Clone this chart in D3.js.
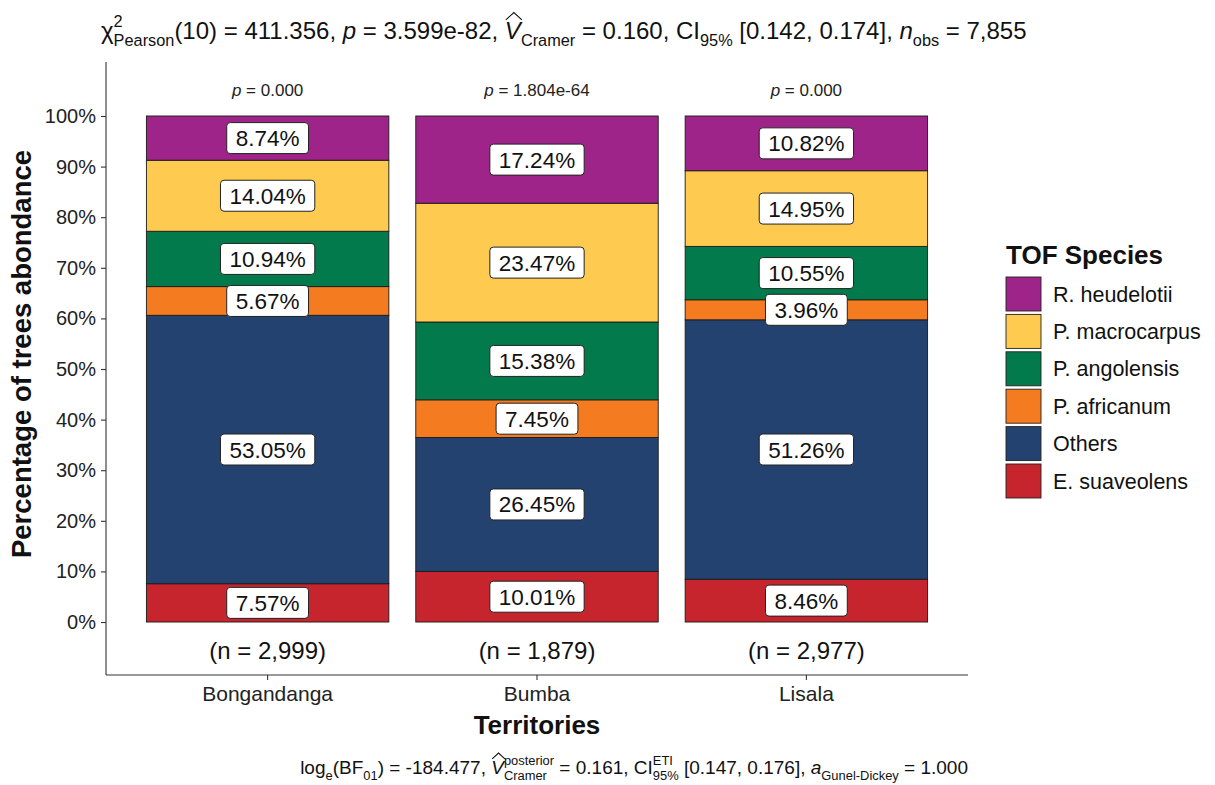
<!DOCTYPE html>
<html>
<head>
<meta charset="utf-8">
<script src="https://cdn.jsdelivr.net/npm/d3@7"></script>
<style>
  html, body { margin: 0; padding: 0; background: #fff; }
  svg { display: block; font-family: "Liberation Sans", Arial, sans-serif; }
  text { white-space: pre; }
</style>
</head>
<body>
<svg id="chart" width="1215" height="785"></svg>
<script>
// Tree abundance by territory (percent of trees per species)
const territories = ["Bongandanga", "Bumba", "Lisala"];
const species = ["E. suaveolens", "Others", "P. africanum", "P. angolensis", "P. macrocarpus", "R. heudelotii"];
const speciesColors = ["#c7252d", "#24426f", "#f47b20", "#037a4c", "#fecb50", "#9e248a"];
const bongandanga = [7.57, 53.05, 5.67, 10.94, 14.04, 8.74];
const bumba = [10.01, 26.45, 7.45, 15.38, 23.47, 17.24];
const lisala = [8.46, 51.26, 3.96, 10.55, 14.95, 10.82];
const nObs = [2999, 1879, 2977];
const pValues = ["0.000", "1.804e-64", "0.000"];
const yTicks = [0, 0.1, 0.2, 0.3, 0.4, 0.5, 0.6, 0.7, 0.8, 0.9, 1.0];

const shares = [bongandanga, bumba, lisala];
const rows = territories.map((t, i) => {
  const total = d3.sum(shares[i]);
  const r = { territory: t };
  species.forEach((s, j) => { r[s] = shares[i][j] / total; r[s + "_pct"] = shares[i][j]; });
  return r;
});

const svg = d3.select("#chart");
const FONT = '"Liberation Sans", Arial, sans-serif';
const panel = { left: 106, right: 968, top: 62, bottom: 675 };

const x = d3.scaleBand().domain(territories)
  .range([panel.left, panel.right]).paddingInner(0.1).paddingOuter(0.15);
const y = d3.scaleLinear().domain([-0.1047, 1.1067]).range([panel.bottom, panel.top]);
const color = d3.scaleOrdinal().domain(species).range(speciesColors);

const stacked = d3.stack().keys(species)(rows);

// Stacked bars
const layers = svg.append("g").selectAll("g").data(stacked).join("g")
  .attr("fill", d => color(d.key));
layers.selectAll("rect").data(d => d.map(p => ({ p, key: d.key }))).join("rect")
  .attr("x", d => x(d.p.data.territory))
  .attr("width", x.bandwidth())
  .attr("y", d => y(d.p[1]))
  .attr("height", d => y(d.p[0]) - y(d.p[1]))
  .attr("stroke", "#1a1a1a").attr("stroke-width", 0.9);

// Percentage labels in white rounded boxes
const labG = svg.append("g");
stacked.forEach(layer => {
  layer.forEach(p => {
    const cx = x(p.data.territory) + x.bandwidth() / 2;
    const cy = y((p[0] + p[1]) / 2);
    const g = labG.append("g");
    const rect = g.append("rect");
    const t = g.append("text").attr("x", cx).attr("y", cy + 8)
      .attr("text-anchor", "middle").attr("font-size", 22.5).attr("fill", "#111")
      .text(p.data[layer.key + "_pct"].toFixed(2) + "%");
    const w = t.node().getComputedTextLength();
    rect.attr("x", cx - w / 2 - 9).attr("y", cy - 15.5).attr("width", w + 18).attr("height", 31)
      .attr("rx", 3.5).attr("fill", "#fff").attr("stroke", "#222").attr("stroke-width", 1);
  });
});

// Axes
const yAxis = d3.axisLeft(y).tickValues(yTicks).tickFormat(d3.format(".0%")).tickSize(5).tickPadding(5);
const yg = svg.append("g").attr("transform", `translate(${panel.left},0)`).call(yAxis);
yg.select(".domain").attr("d", `M0,${panel.top}V${panel.bottom}`);
const xAxis = d3.axisBottom(x).tickSize(5).tickPadding(6);
const xg = svg.append("g").attr("transform", `translate(0,${panel.bottom})`).call(xAxis);
xg.select(".domain").attr("d", `M${panel.left},0H${panel.right}`);
[yg, xg].forEach(g => {
  g.select(".domain").attr("stroke", "#333").attr("stroke-width", 1.1);
  g.selectAll(".tick line").attr("stroke", "#333").attr("stroke-width", 1.1);
  g.selectAll(".tick text").attr("font-family", FONT).attr("fill", "#222");
});
yg.selectAll(".tick text").attr("font-size", 20);
xg.selectAll(".tick text").attr("font-size", 21);

// Sample sizes under bars and p-values above
territories.forEach((t, i) => {
  const cx = x(t) + x.bandwidth() / 2;
  svg.append("text").attr("x", cx).attr("y", 659).attr("text-anchor", "middle")
    .attr("font-size", 24).attr("fill", "#111").text(`(n = ${d3.format(",")(nObs[i])})`);
  const pt = svg.append("text").attr("x", cx).attr("y", 96).attr("text-anchor", "middle")
    .attr("font-size", 17).attr("fill", "#222");
  pt.append("tspan").attr("font-style", "italic").text("p");
  pt.append("tspan").text(" = " + pValues[i]);
});

// Axis titles
svg.append("text").attr("transform", "translate(31,354) rotate(-90)").attr("text-anchor", "middle")
  .attr("font-size", 27.5).attr("font-weight", "bold").attr("fill", "#111").text("Percentage of trees abondance");
svg.append("text").attr("x", (panel.left + panel.right) / 2).attr("y", 734).attr("text-anchor", "middle")
  .attr("font-size", 26).attr("font-weight", "bold").attr("fill", "#111").text("Territories");

// Legend
const leg = svg.append("g").attr("transform", "translate(1006,0)");
leg.append("text").attr("x", 0).attr("y", 264).attr("font-size", 26).attr("font-weight", "bold")
  .attr("fill", "#111").text("TOF Species");
species.slice().reverse().forEach((s, i) => {
  const top = 277 + i * 37.4;
  leg.append("rect").attr("x", 0).attr("y", top).attr("width", 35).attr("height", 34)
    .attr("fill", color(s)).attr("stroke", "#222").attr("stroke-width", 0.9);
  leg.append("text").attr("x", 47).attr("y", top + 24.5).attr("font-size", 21.5).attr("fill", "#111").text(s);
});

// Rich text with italics, sub/superscripts and hats
function rich(segs, x0, baseY, size, anchor) {
  const g = svg.append("g");
  let cx = 0;
  function put(s, xPos) {
    const fs = s.v ? size * 0.68 : size;
    const dy = s.v === "sup" ? -size * 0.5 : s.v === "sub" ? size * 0.3 : 0;
    const t = g.append("text").attr("x", xPos).attr("y", baseY + dy).attr("font-size", fs)
      .attr("fill", "#111").attr("font-style", s.i ? "italic" : "normal").text(s.t);
    const w = t.node().getComputedTextLength();
    if (s.hat) {
      const top = baseY - size * 0.8;
      g.append("path").attr("d", `M${xPos + 1},${top} L${xPos + w / 2 + 1},${top - size * 0.3} L${xPos + w + 1},${top}`)
        .attr("fill", "none").attr("stroke", "#111").attr("stroke-width", 1.1);
    }
    return w;
  }
  segs.forEach(s => {
    if (s.stack) {
      const ws = s.stack.map(p => put(p, cx));
      cx += d3.max(ws);
    } else {
      cx += put(s, cx);
    }
  });
  const shift = anchor === "end" ? x0 - cx : anchor === "middle" ? x0 - cx / 2 : x0;
  g.attr("transform", `translate(${shift},0)`);
  return g;
}

rich([
  { t: "χ" },
  { stack: [{ t: "2", v: "sup" }, { t: "Pearson", v: "sub" }] },
  { t: "(10) = 411.356, " }, { t: "p", i: true }, { t: " = 3.599e-82, " },
  { t: "V", i: true, hat: true }, { t: "Cramer", v: "sub" },
  { t: " = 0.160, CI" }, { t: "95%", v: "sub" }, { t: " [0.142, 0.174], " },
  { t: "n", i: true }, { t: "obs", v: "sub" }, { t: " = 7,855" }
], 101, 39, 24, "start");

rich([
  { t: "log" }, { t: "e", v: "sub" }, { t: "(BF" }, { t: "01", v: "sub" }, { t: ") = -184.477, " },
  { t: "V", i: true, hat: true },
  { stack: [{ t: "posterior", v: "sup" }, { t: "Cramer", v: "sub" }] },
  { t: " = 0.161, CI" },
  { stack: [{ t: "ETI", v: "sup" }, { t: "95%", v: "sub" }] },
  { t: " [0.147, 0.176], " }, { t: "a", i: true }, { t: "Gunel-Dickey", v: "sub" }, { t: " = 1.000" }
], 968, 774, 19, "end");
</script>
</body>
</html>
